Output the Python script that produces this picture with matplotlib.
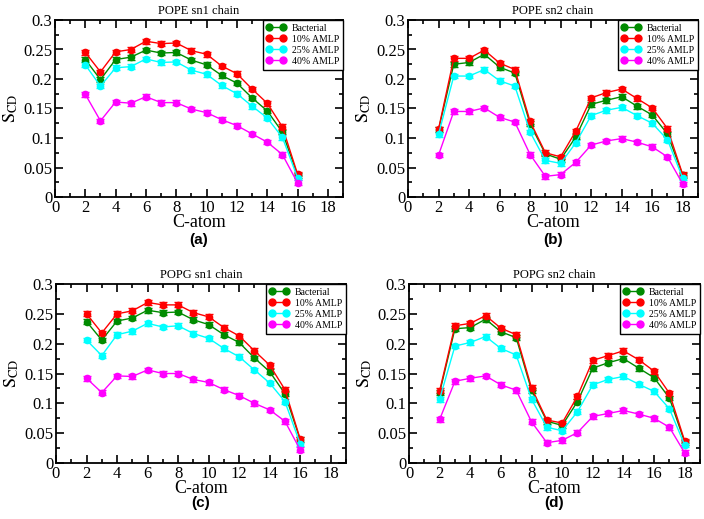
import numpy as np
import matplotlib
matplotlib.use("Agg")
import matplotlib.pyplot as plt
from matplotlib.ticker import MultipleLocator, FuncFormatter
from matplotlib.lines import Line2D

plt.rcParams['font.family'] = ['Liberation Serif', 'DejaVu Serif']
plt.rcParams['mathtext.fontset'] = 'stix'

series_names = ["Bacterial", "10% AMLP", "25% AMLP", "40% AMLP"]
series_colors = ["#008B00", "#FF0000", "#00FFFF", "#FF00FF"]

carbons_sn1 = list(range(2, 17))
carbons_sn2 = list(range(2, 19))

# Panel (a) POPE sn1
pope_sn1_bact = [0.233, 0.199, 0.233, 0.237, 0.249, 0.244, 0.245, 0.232, 0.224, 0.206, 0.193, 0.168, 0.146, 0.110, 0.037]
pope_sn1_10 = [0.245, 0.212, 0.246, 0.250, 0.264, 0.260, 0.261, 0.248, 0.242, 0.222, 0.209, 0.183, 0.159, 0.119, 0.039]
pope_sn1_25 = [0.224, 0.188, 0.219, 0.221, 0.234, 0.228, 0.229, 0.215, 0.208, 0.189, 0.175, 0.154, 0.134, 0.101, 0.033]
pope_sn1_40 = [0.174, 0.129, 0.161, 0.159, 0.170, 0.160, 0.160, 0.149, 0.143, 0.131, 0.121, 0.107, 0.093, 0.072, 0.024]

# Panel (b) POPE sn2
pope_sn2_bact = [0.114, 0.225, 0.228, 0.242, 0.220, 0.210, 0.124, 0.073, 0.064, 0.102, 0.157, 0.164, 0.170, 0.154, 0.139, 0.107, 0.037]
pope_sn2_10 = [0.115, 0.235, 0.235, 0.249, 0.227, 0.216, 0.128, 0.075, 0.068, 0.112, 0.168, 0.177, 0.183, 0.167, 0.151, 0.116, 0.038]
pope_sn2_25 = [0.106, 0.205, 0.205, 0.216, 0.197, 0.188, 0.110, 0.062, 0.057, 0.092, 0.138, 0.147, 0.152, 0.138, 0.125, 0.097, 0.032]
pope_sn2_40 = [0.071, 0.145, 0.145, 0.151, 0.135, 0.127, 0.072, 0.035, 0.038, 0.059, 0.088, 0.095, 0.099, 0.093, 0.085, 0.068, 0.022]

# Panel (c) POPG sn1
popg_sn1_bact = [0.237, 0.206, 0.238, 0.243, 0.256, 0.252, 0.253, 0.240, 0.232, 0.215, 0.202, 0.176, 0.153, 0.116, 0.039]
popg_sn1_10 = [0.250, 0.218, 0.250, 0.255, 0.269, 0.265, 0.265, 0.252, 0.245, 0.227, 0.213, 0.188, 0.164, 0.123, 0.040]
popg_sn1_25 = [0.206, 0.180, 0.215, 0.221, 0.234, 0.228, 0.230, 0.217, 0.209, 0.192, 0.178, 0.156, 0.134, 0.103, 0.032]
popg_sn1_40 = [0.142, 0.118, 0.146, 0.145, 0.156, 0.150, 0.150, 0.140, 0.135, 0.123, 0.113, 0.100, 0.089, 0.070, 0.022]

# Panel (d) POPG sn2
popg_sn2_bact = [0.118, 0.225, 0.227, 0.241, 0.220, 0.210, 0.122, 0.070, 0.063, 0.103, 0.159, 0.168, 0.175, 0.159, 0.143, 0.109, 0.035]
popg_sn2_10 = [0.121, 0.230, 0.234, 0.247, 0.226, 0.215, 0.126, 0.072, 0.067, 0.112, 0.172, 0.180, 0.188, 0.173, 0.154, 0.117, 0.037]
popg_sn2_25 = [0.107, 0.196, 0.202, 0.212, 0.192, 0.181, 0.107, 0.060, 0.054, 0.086, 0.131, 0.140, 0.145, 0.132, 0.120, 0.091, 0.030]
popg_sn2_40 = [0.073, 0.137, 0.142, 0.146, 0.131, 0.122, 0.069, 0.034, 0.038, 0.051, 0.078, 0.083, 0.088, 0.082, 0.075, 0.060, 0.017]

error_size = 0.004

panels = [
    ("POPE sn1 chain", "(a)", carbons_sn1, [pope_sn1_bact, pope_sn1_10, pope_sn1_25, pope_sn1_40]),
    ("POPE sn2 chain", "(b)", carbons_sn2, [pope_sn2_bact, pope_sn2_10, pope_sn2_25, pope_sn2_40]),
    ("POPG sn1 chain", "(c)", carbons_sn1, [popg_sn1_bact, popg_sn1_10, popg_sn1_25, popg_sn1_40]),
    ("POPG sn2 chain", "(d)", carbons_sn2, [popg_sn2_bact, popg_sn2_10, popg_sn2_25, popg_sn2_40]),
]

W, H = 704, 519
fig = plt.figure(figsize=(W / 100, H / 100), dpi=100)

# axes boxes in pixels: left, right, top, bottom
boxes = [(55, 343, 20, 197), (408, 698, 20, 197), (56, 346, 284, 463), (409, 700, 284, 463)]
label_y = [240, 240, 503, 503]

fmt = FuncFormatter(lambda v, p: "%g" % round(v, 3))

for (title, tag, xs, ys), (l, r, t, b), ly in zip(panels, boxes, label_y):
    ax = fig.add_axes([l / W, 1 - b / H, (r - l) / W, (b - t) / H])
    handles = []
    for name, color, yv in zip(series_names, series_colors, ys):
        ax.errorbar(xs, yv, yerr=error_size, color=color, marker='o', markersize=4.5,
                    linewidth=1.0, elinewidth=1.0, capsize=3, capthick=1.0)
        handles.append(Line2D([], [], color=color, marker='o', markersize=5, linewidth=1.0, label=name))
    ax.set_xlim(0, 19)
    ax.set_ylim(0, 0.3)
    ax.xaxis.set_major_locator(MultipleLocator(2))
    ax.xaxis.set_minor_locator(MultipleLocator(1))
    ax.yaxis.set_major_locator(MultipleLocator(0.05))
    ax.yaxis.set_minor_locator(MultipleLocator(0.025))
    ax.yaxis.set_major_formatter(fmt)
    ax.tick_params(which='both', direction='in', top=True, right=True, labelsize=12, width=1.2)
    ax.tick_params(which='major', length=6, pad=2)
    ax.tick_params(which='minor', length=3)
    for s in ax.spines.values():
        s.set_linewidth(1.3)
    ax.set_title(title, fontsize=9, pad=4)
    ax.set_xlabel("C-atom", fontsize=13, labelpad=-1)
    ax.set_ylabel(r"$\mathrm{S_{CD}}$", fontsize=13, labelpad=2)
    leg = ax.legend(handles=handles, loc='upper right', borderaxespad=0, fontsize=7, numpoints=2,
                    handlelength=2.0, frameon=True, fancybox=False, framealpha=1,
                    edgecolor='black', borderpad=0.4, labelspacing=0.2, handletextpad=0.6)
    leg.get_frame().set_linewidth(1.0)
    fig.text((l + r) / 2 / W, 1 - ly / H, tag, ha='center', va='center',
             fontsize=11, fontweight='bold', family=['Liberation Sans', 'DejaVu Sans'])

fig.savefig("out.png", dpi=100)
